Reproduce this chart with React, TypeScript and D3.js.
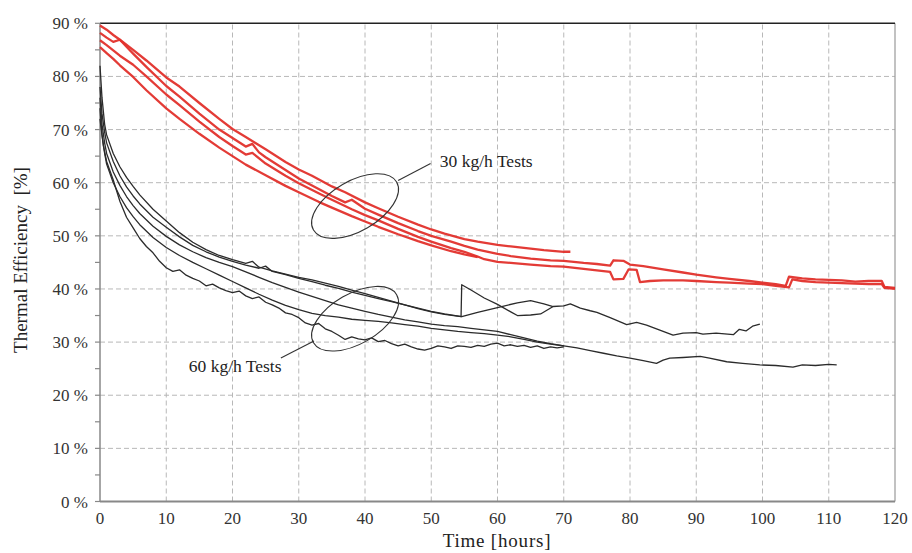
import React from "react";
import * as d3 from "d3";

type P = [number, number];

const X_TICKS = [0, 10, 20, 30, 40, 50, 60, 70, 80, 90, 100, 110, 120];
const Y_TICKS = [0, 10, 20, 30, 40, 50, 60, 70, 80, 90];
const Y_MINOR = [5, 15, 25, 35, 45, 55, 65, 75, 85];

// 30 kg/h tests (red)
const red30A: P[] = [[0,89.6],[1,88.8],[2,87.8],[3,86.9],[5,85],[7,83],[10,79.8],[12,78.1],[15,75],[18,72],[20,70.1],[22,68.6],[25,66.3],[28,63.9],[30,62.5],[32,61.3],[35,59.3],[37,58.2],[40,56.3],[42,55.2],[45,53.6],[48,52.1],[50,51.2],[52,50.4],[55,49.4],[57,48.9],[60,48.3],[62,48],[65,47.6],[67,47.3],[70,47.0],[71,47.0]];
const red30B: P[] = [[0,88.2],[1,87.3],[2,86.5],[3,86.9],[4,85.6],[5,84.3],[7,81.8],[10,78.2],[12,76.2],[15,73],[18,70],[20,68.4],[22,66.8],[23,67.3],[24,65.7],[25,64.8],[28,62.4],[30,60.8],[33,58.8],[35,57.5],[37,56.3],[38,56.8],[40,55.1],[42,54],[45,52.4],[48,50.9],[50,50],[53,48.9],[55,48.1],[57,47.4],[60,46.6],[62,46.2],[65,45.7],[68,45.4],[70,45.3],[73,44.9],[75,44.7],[77,44.4],[77.5,45.4],[79,45.3],[80,44.6],[82,44.3],[85,43.7],[88,43.1],[90,42.7],[93,42.2],[95,41.9],[98,41.5],[100,41.2],[102,40.9],[103.5,40.6],[104,42.3],[106,42],[108,41.8],[110,41.7],[112,41.6],[114,41.4],[116,41.5],[118,41.5],[118.4,40.4],[120,40.2]];
const red30C: P[] = [[0,86.8],[1,85.9],[2,84.9],[3,83.9],[5,82.2],[7,80],[10,76.6],[12,74.6],[15,71.5],[18,68.6],[20,66.9],[22,65.3],[23,65.6],[25,63.6],[28,61.3],[30,59.9],[33,58],[35,56.8],[38,55],[40,53.9],[42,52.9],[45,51.3],[48,49.8],[50,48.9],[53,47.7],[55,47],[57,46.1],[58,45.6],[60,45.1],[62,44.9],[65,44.6],[68,44.3],[70,44.2],[73,43.8],[75,43.5],[77,43.2],[77.5,41.8],[79,41.9],[79.8,43.7],[81,43.6],[81.5,41.3],[83,41.5],[85,41.6],[88,41.6],[90,41.5],[93,41.3],[95,41.2],[98,41],[100,40.9],[102,40.6],[104,40.3],[104.5,41.8],[106,41.5],[108,41.3],[110,41.2],[112,41.1],[114,41],[116,40.9],[118,40.9],[118.4,40.2],[120,40]];
const red30D: P[] = [[0,85.5],[1,84.4],[2,83.3],[3,82.1],[5,79.9],[7,77.4],[10,74],[12,72],[15,69.2],[18,66.6],[20,65],[22,63.4],[25,61.4],[28,59.4],[30,58.2],[33,56.4],[35,55.3],[38,53.7],[40,52.7],[42,51.7],[45,50.3],[48,49],[50,48.2],[53,47.1],[55,46.5],[57,46]];

// 60 kg/h tests (black)
const blk60A: P[] = [[0,82],[0.3,76],[0.7,71],[1,69],[2,65.5],[3,63],[4,61],[5,59.3],[6,57.7],[8,55],[10,52.8],[12,50.6],[14,48.8],[16,47.4],[18,46.3],[20,45.5],[22,44.8],[23,45.2],[24,44.1],[26,43.4],[28,42.8],[30,42.2],[32,41.7],[34,41.1],[36,40.5],[38,39.8],[40,39.1],[42,38.4],[44,37.7],[46,37],[48,36.3],[50,35.7],[52,35.2],[54.5,34.8],[54.6,40.8],[56,39.8],[58,38.3],[60,37.1],[62,35.7],[63,35],[65,35.1],[66.5,35.3],[68.4,36.7],[70,36.8],[71,37.2],[72.5,36.4],[74,35.9],[75,35.6],[77,34.6],[79.5,33.3],[81,33.7],[82.5,33.2],[84,32.5],[86.5,31.3],[88,31.7],[90,31.8],[91,31.5],[93,31.7],[95.6,31.4],[96.5,32.4],[97.5,32.1],[98.5,33],[99.6,33.4]];
const blk60B: P[] = [[0,78],[0.3,73],[0.7,69.5],[1,67.5],[2,64],[3,61.3],[4,59.2],[5,57.5],[6,56],[8,53.5],[10,51.6],[12,49.8],[14,48.2],[16,47],[18,46],[20,45.2],[22,44.5],[24,43.9],[25,44.3],[26,43.3],[28,42.7],[30,42],[32,41.4],[34,40.7],[36,40.1],[38,39.4],[40,38.8],[42,38.2],[44,37.6],[46,37],[48,36.4],[50,35.8],[52,35.3],[54.6,34.8],[57,35.6],[60,36.5],[63,37.4],[65,37.8],[67,37.2],[68.4,36.7]];
const blk60C: P[] = [[0,76],[0.3,71],[0.7,67.5],[1,65.5],[2,62],[3,59.5],[4,57.4],[5,55.7],[6,54.2],[8,51.8],[10,49.9],[12,48.3],[14,47],[16,45.9],[18,45],[20,44.2],[22,43.2],[24,42.2],[26,41.2],[28,40.3],[30,39.4],[32,38.6],[34,37.8],[36,37],[38,36.4],[40,35.8],[42,35.2],[44,34.7],[46,34.2],[48,33.8],[50,33.4],[52,33.1],[54,32.9],[56,32.6],[58,32.3],[60,32],[62,31.4],[64,30.8],[66,30.2],[68,29.7],[70,29.3],[72,28.9],[74,28.4],[76,27.9],[78,27.4],[80,27],[82,26.5],[84,26],[85,26.6],[86,27],[88,27.1],[90.6,27.3],[92,27],[94.6,26.3],[97,26],[99.6,25.7],[102,25.6],[104.6,25.3],[106,25.7],[108,25.6],[110,25.8],[111.2,25.7]];
const blk60D: P[] = [[0,74],[0.3,69],[0.7,65.5],[1,63.5],[2,60],[3,57.4],[4,55.3],[5,53.6],[6,52.1],[8,49.7],[10,47.8],[12,46.3],[14,45],[16,43.8],[18,42.6],[20,41.4],[22,40.2],[24,39],[26,37.9],[28,36.9],[30,36.1],[32,35.4],[34,35],[36,34.7],[38,34.3],[40,34.1],[42,33.9],[44,33.6],[46,33.3],[48,33],[50,32.6],[52,32.3],[54,32],[56,31.8],[58,31.6],[60,31.3],[62,31],[64,30.5],[66,30],[68,29.6],[70,29.3]];
const blk60E: P[] = [[0,72],[0.5,67],[1,64],[2,60.5],[3,56.5],[4,53.5],[5,51.5],[6,49.5],[7,48],[8,46.8],[9,45.2],[10,44],[11,43.3],[12,43.6],[13,42.6],[14,42],[15,41.5],[16,40.6],[17,40.9],[18,40.2],[19,39.7],[20,39.3],[21,39.6],[22,38.7],[23,38.2],[24,38.5],[25,37.5],[26,37],[27,36.4],[28,35.5],[29,35.2],[30,34.6],[31,33.6],[32,33.2],[33,33.5],[34,32.5],[35,32],[36,31.3],[37,30.5],[38,31],[39,30.6],[40,30.4],[41,30.8],[42,30.1],[43,30.3],[44,29.7],[45,29.3],[46,29.6],[47,29.1],[48,28.7],[49,28.5],[50,28.8],[51,29.3],[52,29.1],[53,28.8],[54,29.3],[55,29.2],[56,29],[57,29.4],[58,29.2],[59,29.6],[60,29.8],[61,29.3],[62,29.5],[63,29.2],[64,29.4],[65,29],[66,29.3],[67,28.8],[68,29.1],[69,28.9],[70,29.1]];

const RED_SERIES = [red30A, red30B, red30C, red30D];
const BLACK_SERIES = [blk60A, blk60B, blk60C, blk60D, blk60E];

// annotations (data coords)
const LABEL_30 = "30 kg/h Tests";
const LABEL_60 = "60 kg/h Tests";
const ELLIPSE_30: P = [38.5, 55.6];
const ELLIPSE_60: P = [38.5, 34.4];
const LEADER_30: P[] = [[45, 60.4], [49.9, 63.6]];
const LEADER_60: P[] = [[27.3, 27.0], [32.3, 30.2]];
const TEXT_30: P = [51.3, 63.0];
const TEXT_60: P = [27.4, 24.3];

const W = 912;
const H = 553;

export default function App() {
  const x = d3.scaleLinear().domain([0, 120]).range([100, 895]);
  const y = d3.scaleLinear().domain([0, 90]).range([501.5, 23.3]);
  const line = d3.line<P>().x((d) => x(d[0])).y((d) => y(d[1]));
  const font = "'Liberation Serif', 'Times New Roman', serif";
  const gridColor = "#b8b8b8";

  return (
    <svg width={W} height={H} style={{ position: "absolute", left: 0, top: 0, background: "#fff" }} fontFamily={font}>
      <rect x={0} y={0} width={W} height={H} fill="#fff" />
      {/* grid */}
      {X_TICKS.slice(1, -1).map((t) => (
        <line key={"gx" + t} x1={x(t)} x2={x(t)} y1={y(0)} y2={y(90)} stroke={gridColor} strokeWidth={1} strokeDasharray="5,3" />
      ))}
      {Y_TICKS.slice(1, -1).map((t) => (
        <line key={"gy" + t} x1={x(0)} x2={x(120)} y1={y(t)} y2={y(t)} stroke={gridColor} strokeWidth={1} strokeDasharray="5,3" />
      ))}
      {/* frame */}
      <line x1={x(120)} x2={x(120)} y1={y(0)} y2={y(90)} stroke="#999" strokeWidth={1.2} />
      <line x1={x(0)} x2={x(120)} y1={y(90)} y2={y(90)} stroke="#222" strokeWidth={1.5} />
      <line x1={x(0)} x2={x(120)} y1={y(0)} y2={y(0)} stroke="#888" strokeWidth={2} />
      <line x1={x(0)} x2={x(0)} y1={y(0)} y2={y(90)} stroke="#888" strokeWidth={1.5} />
      {/* y ticks */}
      {[...Y_TICKS, ...Y_MINOR].map((t) => (
        <line key={"ty" + t} x1={x(0) - 5} x2={x(0)} y1={y(t)} y2={y(t)} stroke="#888" strokeWidth={1.2} />
      ))}
      {/* series */}
      {BLACK_SERIES.map((s, i) => (
        <path key={"b" + i} d={line(s) || ""} fill="none" stroke="#2b2b2b" strokeWidth={1.3} strokeLinejoin="round" />
      ))}
      {RED_SERIES.map((s, i) => (
        <path key={"r" + i} d={line(s) || ""} fill="none" stroke="#e2302b" strokeWidth={2.3} strokeLinejoin="round" opacity={0.95} />
      ))}
      {/* annotations */}
      <ellipse cx={x(ELLIPSE_30[0])} cy={y(ELLIPSE_30[1])} rx={48} ry={25} fill="none" stroke="#333" strokeWidth={1.1}
        transform={`rotate(-30 ${x(ELLIPSE_30[0])} ${y(ELLIPSE_30[1])})`} />
      <ellipse cx={x(ELLIPSE_60[0])} cy={y(ELLIPSE_60[1])} rx={48} ry={25} fill="none" stroke="#333" strokeWidth={1.1}
        transform={`rotate(-30 ${x(ELLIPSE_60[0])} ${y(ELLIPSE_60[1])})`} />
      <path d={line(LEADER_30) || ""} stroke="#333" strokeWidth={1.1} fill="none" />
      <path d={line(LEADER_60) || ""} stroke="#333" strokeWidth={1.1} fill="none" />
      <text x={x(TEXT_30[0])} y={y(TEXT_30[1])} fontSize={17.5} fill="#222">{LABEL_30}</text>
      <text x={x(TEXT_60[0])} y={y(TEXT_60[1])} fontSize={17.5} fill="#222" textAnchor="end">{LABEL_60}</text>
      {/* tick labels */}
      {Y_TICKS.map((t) => (
        <text key={"ly" + t} x={88} y={y(t) + 6} fontSize={17} textAnchor="end" fill="#333">{t + " %"}</text>
      ))}
      {X_TICKS.map((t) => (
        <text key={"lx" + t} x={x(t)} y={524} fontSize={17} textAnchor="middle" fill="#333">{t}</text>
      ))}
      {/* axis titles */}
      <text x={497} y={547} fontSize={19} letterSpacing={0.8} textAnchor="middle" fill="#222">Time [hours]</text>
      <text transform={`translate(27, 260) rotate(-90)`} fontSize={19} textAnchor="middle" fill="#222" style={{ whiteSpace: "pre" }}>Thermal Efficiency  [%]</text>
    </svg>
  );
}
